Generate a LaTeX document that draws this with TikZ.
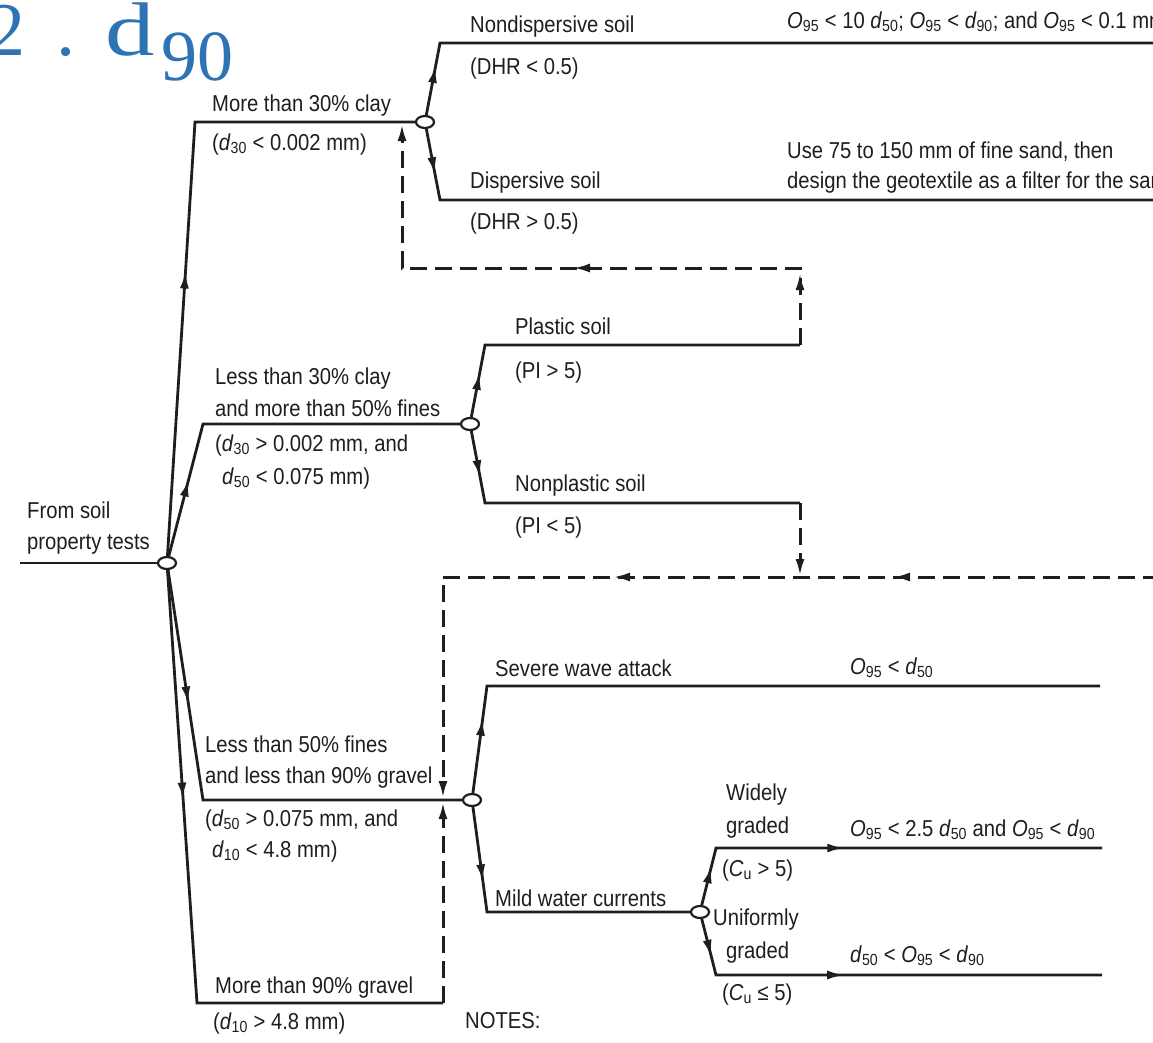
\documentclass[tikz,border=0pt]{standalone}
\usepackage{fontspec}
\setmainfont{Liberation Sans}[FakeStretch=0.88]
\newfontfamily\titlefont{Liberation Serif}
\usetikzlibrary{arrows.meta,decorations.markings,shapes.geometric}
\definecolor{ink}{HTML}{1E1E1E}
\definecolor{titleblue}{HTML}{2E74B5}
\newcommand{\qsub}[2]{\textit{#1}\textsubscript{#2}}
\begin{document}
\begin{tikzpicture}[x=1pt,y=-1pt,
  lbl/.style={anchor=base west, inner sep=0pt, text=ink, font=\fontsize{23}{27}\selectfont},
  wire/.style={draw=ink, line width=2.8pt},
  dashline/.style={draw=ink, line width=3pt, dash pattern=on 17pt off 8pt},
  junc/.style={ellipse, draw=ink, fill=white, line width=2.2pt, minimum width=18pt, minimum height=12pt, inner sep=0pt},
  endtip/.style={-{Latex[length=17pt,width=9pt]}},
  arr/.style={postaction={decorate,decoration={markings,mark=at position #1 with {\arrow{Latex[length=17pt,width=9pt]}}}}}
]
\useasboundingbox (0,0) rectangle (1153,1042);
\clip (0,0) rectangle (1153,1042);

% title
\node[anchor=base west, inner sep=0pt, text=titleblue, font=\titlefont\fontsize{76}{80}\selectfont] (title) at (-13,55)
  {2\kern31pt.\kern30pt\scalebox{1.3}[1]{d}\kern7pt\raisebox{-25pt}{\fontsize{72}{72}\selectfont 90}};

% junctions
\node[junc] (r) at (167,563) {};
\node[junc] (e1) at (425,122) {};
\node[junc] (e2) at (470,424) {};
\node[junc] (e3) at (472,800) {};
\node[junc] (e4) at (700,912) {};

% corners and ends
\coordinate (in) at (20,563);
\coordinate (a1) at (195,122);
\coordinate (a2) at (203,424);
\coordinate (a3) at (203,800);
\coordinate (a4) at (197,1003);
\coordinate (b1) at (440,43);
\coordinate (b1e) at (1160,43);
\coordinate (b2) at (440,200);
\coordinate (b2e) at (1160,200);
\coordinate (p1) at (485,345);
\coordinate (p1e) at (800,345);
\coordinate (p2) at (485,503);
\coordinate (p2e) at (800,503);
\coordinate (s1) at (487,686);
\coordinate (s1e) at (1100,686);
\coordinate (m1) at (487,912);
\coordinate (w1) at (716,848);
\coordinate (w1e) at (1102,848);
\coordinate (u1) at (716,975);
\coordinate (u1e) at (1102,975);
\coordinate (g1e) at (443,1003);
\coordinate (f1) at (800,268);
\coordinate (f2) at (402,268);
\coordinate (f3) at (402,124);
\coordinate (n1) at (800,576);
\coordinate (h0) at (1160,577);
\coordinate (h1) at (443,577);
\coordinate (h2) at (443,798);
\coordinate (h3) at (443,802);

% solid connectors
\draw[wire] (in) -- (r);
\draw[wire, arr=285pt] (r) -- (a1) -- (e1);
\draw[wire, arr=79pt] (r) -- (a2) -- (e2);
\draw[wire, arr=135pt] (r) -- (a3) -- (e3);
\draw[wire, arr=230pt] (r) -- (a4) -- (g1e);
\draw[wire, arr=50pt] (e1) -- (b1) -- (b1e);
\draw[wire, arr=46pt] (e1) -- (b2) -- (b2e);
\draw[wire, arr=45pt] (e2) -- (p1) -- (p1e);
\draw[wire, arr=47pt] (e2) -- (p2) -- (p2e);
\draw[wire, arr=75pt] (e3) -- (s1) -- (s1e);
\draw[wire, arr=75pt] (e3) -- (m1) -- (e4);
\draw[wire, arr=40pt, arr=187pt] (e4) -- (w1) -- (w1e);
\draw[wire, arr=39pt, arr=186pt] (e4) -- (u1) -- (u1e);

% dashed connectors
\draw[dashline, endtip, arr=72pt, arr=304pt] (p1e) -- (f1) -- (f2) -- (f3);
\draw[dashline, endtip] (p2e) -- (n1);
\draw[dashline, endtip, arr=267pt, arr=547pt] (h0) -- (h1) -- (h2);
\draw[dashline, endtip] (g1e) -- (h3);

% labels
\node[lbl] (t1) at (212,111) {More than 30\% clay};
\node[lbl] (t2) at (212,150) {(\qsub{d}{30} < 0.002 mm)};
\node[lbl] (t3) at (470,32) {Nondispersive soil};
\node[lbl] (t4) at (470,74) {(DHR < 0.5)};
\node[lbl] (t5) at (787,28) {\qsub{O}{95} < 10 \qsub{d}{50}; \qsub{O}{95} < \qsub{d}{90}; and \qsub{O}{95} < 0.1 mm};
\node[lbl] (t6) at (787,158) {Use 75 to 150 mm of fine sand, then};
\node[lbl] (t7) at (787,188) {design the geotextile as a filter for the sand};
\node[lbl] (t8) at (470,188) {Dispersive soil};
\node[lbl] (t9) at (470,229) {(DHR > 0.5)};
\node[lbl] (t10) at (515,334) {Plastic soil};
\node[lbl] (t11) at (515,378) {(PI > 5)};
\node[lbl] (t12) at (215,384) {Less than 30\% clay};
\node[lbl] (t13) at (215,416) {and more than 50\% fines};
\node[lbl] (t14) at (215,451) {(\qsub{d}{30} > 0.002 mm, and};
\node[lbl] (t15) at (222,484) {\qsub{d}{50} < 0.075 mm)};
\node[lbl] (t16) at (515,491) {Nonplastic soil};
\node[lbl] (t17) at (515,533) {(PI < 5)};
\node[lbl] (t18) at (27,518) {From soil};
\node[lbl] (t19) at (27,549) {property tests};
\node[lbl] (t20) at (495,676) {Severe wave attack};
\node[lbl] (t21) at (850,674) {\qsub{O}{95} < \qsub{d}{50}};
\node[lbl] (t22) at (205,752) {Less than 50\% fines};
\node[lbl] (t23) at (205,783) {and less than 90\% gravel};
\node[lbl] (t24) at (205,826) {(\qsub{d}{50} > 0.075 mm, and};
\node[lbl] (t25) at (212,857) {\qsub{d}{10} < 4.8 mm)};
\node[lbl] (t26) at (495,906) {Mild water currents};
\node[lbl] (t27) at (726,800) {Widely};
\node[lbl] (t28) at (726,833) {graded};
\node[lbl] (t29) at (722,876) {(\qsub{C}{u} > 5)};
\node[lbl] (t30) at (713,925) {Uniformly};
\node[lbl] (t31) at (726,958) {graded};
\node[lbl] (t32) at (722,1000) {(\qsub{C}{u} ≤ 5)};
\node[lbl] (t33) at (850,836) {\qsub{O}{95} < 2.5 \qsub{d}{50} and \qsub{O}{95} < \qsub{d}{90}};
\node[lbl] (t34) at (850,962) {\qsub{d}{50} < \qsub{O}{95} < \qsub{d}{90}};
\node[lbl] (t35) at (215,993) {More than 90\% gravel};
\node[lbl] (t36) at (213,1029) {(\qsub{d}{10} > 4.8 mm)};
\node[lbl] (t37) at (465,1028) {NOTES:};
\end{tikzpicture}
\end{document}
